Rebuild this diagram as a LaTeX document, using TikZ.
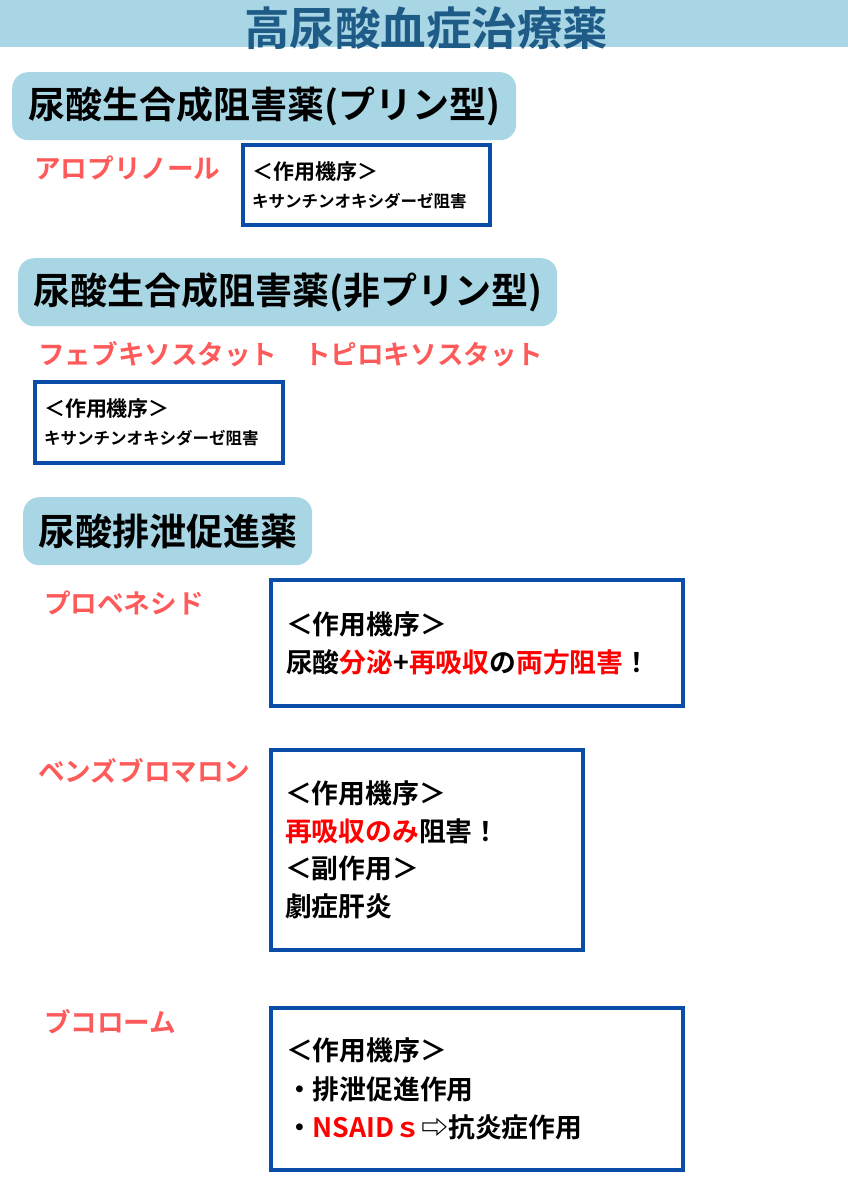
\documentclass[tikz,border=0pt]{standalone}
\usepackage{xcolor}
\usepackage{fontspec}
\setmainfont{Noto Sans CJK JP}[BoldFont={* Bold}]
\usepackage{tikz}
\usetikzlibrary{positioning}
\definecolor{barblue}{HTML}{A8D6E5}
\definecolor{titleblue}{HTML}{1E5B86}
\definecolor{drugred}{HTML}{FF5A5A}
\definecolor{boxblue}{HTML}{0A4DA8}

\tikzset{
  hdr/.style={fill=barblue, rounded corners=16pt, minimum height=68pt,
              inner xsep=0pt, anchor=north west,
              font=\bfseries\fontsize{37}{37}\selectfont},
  drug/.style={anchor=west, inner sep=0pt, text=drugred,
               font=\bfseries\fontsize{26.6}{26.6}\selectfont},
  mechbox/.style={draw=boxblue, line width=4pt, anchor=north west,
                  align=left, inner ysep=0pt},
}

\begin{document}
\begin{tikzpicture}[x=1pt, y=-1pt]
  \useasboundingbox (0,0) rectangle (848,1200);

  % title bar
  \node[fill=barblue, minimum width=848pt, minimum height=47pt,
        inner sep=0pt, anchor=north west] (bar) at (0,0) {};
  \node[text=titleblue, inner sep=0pt,
        font=\bfseries\fontsize{45.5}{45.5}\selectfont] (title) at (426,28) {高尿酸血症治療薬};

  % purine type
  \node[hdr, minimum width=504pt] (hdrA) at (12,72) {尿酸生合成阻害薬(プリン型)};
  \node[drug] (allo) at (34,168) {アロプリノール};
  \node[mechbox, text width=229pt, inner xsep=9pt, minimum height=80pt,
        font=\bfseries\fontsize{21}{28}\selectfont] (boxA) at (241,143)
    {＜作用機序＞\\{\fontsize{16.5}{28}\selectfont キサンチンオキシダーゼ阻害}};

  % non-purine type
  \node[hdr, minimum width=539pt] (hdrB) at (18,258) {尿酸生合成阻害薬(非プリン型)};
  \node[drug] (febu) at (38,354) {フェブキソスタット　トピロキソスタット};
  \node[mechbox, text width=230pt, inner xsep=9pt, minimum height=81pt,
        font=\bfseries\fontsize{21}{28}\selectfont] (boxB) at (33,380)
    {＜作用機序＞\\{\fontsize{16.5}{28}\selectfont キサンチンオキシダーゼ阻害}};

  % uricosurics
  \node[hdr, minimum width=289pt] (hdrC) at (23,497) {尿酸排泄促進薬};
  \node[drug] (prob) at (44,603) {プロベネシド};
  \node[mechbox, text width=382pt, inner xsep=15pt, minimum height=126pt,
        font=\bfseries\fontsize{26.8}{38}\selectfont] (boxC) at (269,578)
    {＜作用機序＞\\尿酸{\color{red}分泌}+{\color{red}再吸収}の{\color{red}両方阻害}！};

  \node[drug] (benz) at (38,771) {ベンズブロマロン};
  \node[mechbox, text width=284pt, inner xsep=14pt, minimum height=200pt,
        font=\bfseries\fontsize{26.8}{37.5}\selectfont] (boxD) at (269,748)
    {＜作用機序＞\\{\color{red}再吸収のみ}阻害！\\＜副作用＞\\劇症肝炎};

  \node[drug] (buco) at (44,1022) {ブコローム};
  \node[mechbox, text width=382pt, inner xsep=15pt, minimum height=162pt,
        font=\bfseries\fontsize{26.8}{38.5}\selectfont] (boxE) at (269,1006)
    {＜作用機序＞\\・排泄促進作用\\・{\color{red}NSAIDｓ}⇨抗炎症作用};
\end{tikzpicture}
\end{document}
